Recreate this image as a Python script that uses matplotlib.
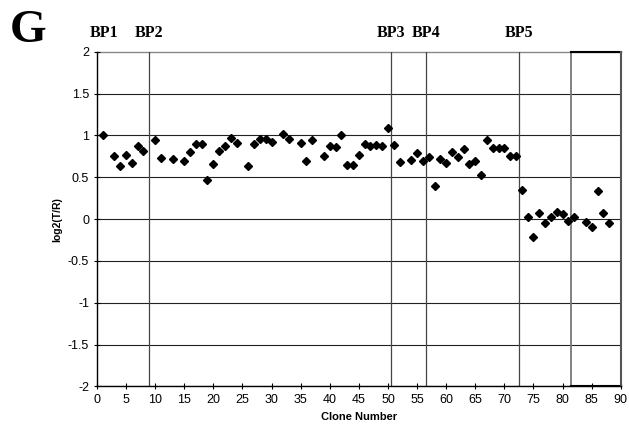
import matplotlib
matplotlib.use("Agg")
import matplotlib.pyplot as plt
import numpy as np

clones = [1, 3, 4, 5, 6, 7, 8, 10, 11, 13, 15, 16, 17, 18, 19, 20, 21, 22, 23, 24,
          26, 27, 28, 29, 30, 32, 33, 35, 36, 37, 39, 40, 41, 42, 43, 44, 45, 46, 47,
          48, 49, 50, 51, 52, 54, 55, 56, 57, 58, 59, 60, 61, 62, 63, 64, 65, 66, 67,
          68, 69, 70, 71, 72, 73, 74, 75, 76, 77, 78, 79, 80, 81, 82, 84, 85, 86, 87, 88]
log2_ratio = [1.01, 0.76, 0.64, 0.77, 0.67, 0.88, 0.82, 0.94, 0.73, 0.72, 0.69, 0.80,
              0.90, 0.90, 0.47, 0.66, 0.81, 0.87, 0.97, 0.91,
              0.64, 0.90, 0.96, 0.96, 0.92, 1.02, 0.96, 0.91, 0.70, 0.94, 0.75, 0.87,
              0.86, 1.00, 0.65, 0.65, 0.77, 0.90, 0.87, 0.89, 0.87, 1.09, 0.89, 0.68,
              0.71, 0.79, 0.70, 0.74, 0.40, 0.72, 0.67, 0.80, 0.74, 0.84, 0.66, 0.69,
              0.53, 0.94, 0.85, 0.85, 0.85, 0.76, 0.76, 0.35, 0.02, -0.21, 0.07, -0.05,
              0.02, 0.08, 0.06, -0.02, 0.03, -0.03, -0.09, 0.34, 0.07, -0.05]
bp_positions = [8.9, 50.6, 56.6, 72.5]
bp_labels = ["BP1", "BP2", "BP3", "BP4", "BP5"]
bp_label_x = [1.2, 8.9, 50.6, 56.6, 72.5]
box_range = [81.45, 90]
x_ticks = list(range(0, 91, 5))
y_ticks = [-2, -1.5, -1, -0.5, 0, 0.5, 1, 1.5, 2]

fig = plt.figure(figsize=(6.29, 4.28), dpi=100)
ax = fig.add_axes([0.154, 0.097, 0.833, 0.782])
ax.set_xlim(0, 90)
ax.set_ylim(-2, 2)

for yv in y_ticks:
    if yv == 2:
        ax.axhline(yv, color="#888888", lw=1.0, zorder=1, clip_on=False)
    else:
        ax.axhline(yv, color="#222222", lw=0.8, zorder=1)
for xv in bp_positions:
    ax.axvline(xv, color="#444444", lw=0.9, zorder=1)
# boxed region
ax.plot([box_range[0], box_range[0]], [-2, 2], color="#777777", lw=1.3, zorder=2)
ax.plot([box_range[0], box_range[1]], [2, 2], color="black", lw=1.5, zorder=2,
        clip_on=False)
ax.plot([box_range[0], box_range[1]], [-2, -2], color="black", lw=1.5, zorder=2,
        clip_on=False)
ax.plot([box_range[1], box_range[1]], [-2, 2], color="#555555", lw=1.5, zorder=2,
        clip_on=False)

ax.plot(clones, log2_ratio, linestyle="none", marker="D", markersize=4.5,
        color="black", zorder=3)

for s in ["top", "right"]:
    ax.spines[s].set_visible(False)
ax.spines["left"].set_linewidth(1.0)
ax.spines["bottom"].set_linewidth(1.0)

ax.set_xticks(x_ticks)
ax.set_yticks(y_ticks)
ax.set_yticklabels(["-2", "-1.5", "-1", "-0.5", "0", "0.5", "1", "1.5", "2"])
ax.tick_params(axis="both", labelsize=9, length=4, width=0.8, direction="inout")
for lab in ax.get_xticklabels() + ax.get_yticklabels():
    lab.set_fontfamily("Liberation Sans")

ax.set_xlabel("Clone Number", fontsize=8, fontweight="bold", family="Liberation Sans",
              labelpad=4)
ax.set_ylabel("log2(T/R)", fontsize=7.5, fontweight="bold", family="Liberation Sans",
              labelpad=4)

for lab, xv in zip(bp_labels, bp_label_x):
    ax.text(xv, 2.22, lab, ha="center", va="center", fontsize=11.5, fontweight="bold",
            family="Liberation Serif", clip_on=False)

fig.text(0.044, 0.928, "G", ha="center", va="center", fontsize=34, fontweight="bold",
         family="Liberation Serif")

fig.savefig("out.png", dpi=100)
